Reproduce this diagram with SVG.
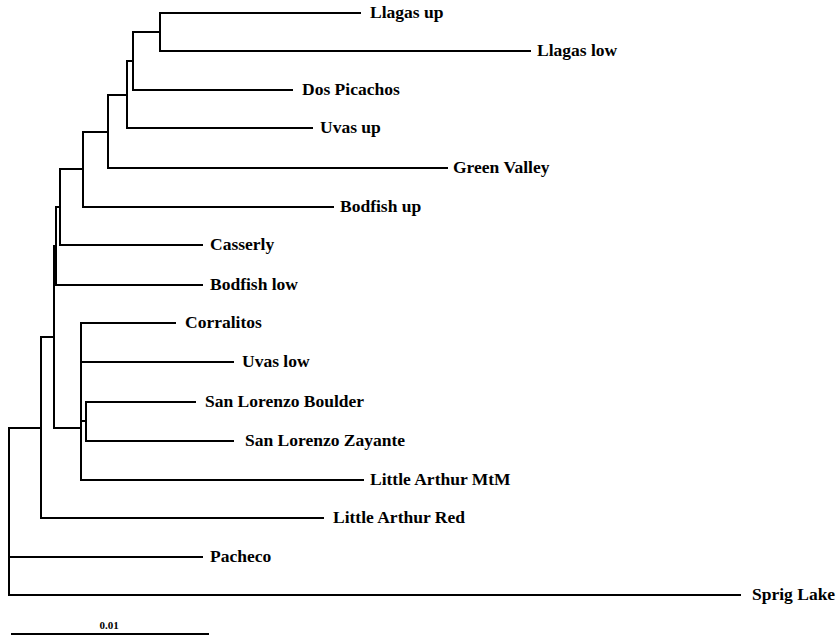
<svg xmlns="http://www.w3.org/2000/svg" width="838" height="638" viewBox="0 0 838 638">
  <style>
    .br { fill: none; stroke: #000; stroke-width: 2; stroke-linecap: square; }
    .lb { font-family: "Liberation Serif", "Times New Roman", serif; font-weight: bold; font-size: 17.5px; fill: #000; }
    .sc { font-family: "Liberation Serif", "Times New Roman", serif; font-weight: bold; font-size: 11px; fill: #000; }
  </style>
  <rect width="838" height="638" fill="#fff"/>

  <!-- tree branches: internal node brackets and terminal branches -->
  <g id="connectors" class="br">
    <!-- root -->
    <path d="M9,428 V595"/>
    <path d="M9,428 H41"/>
    <!-- clade J -->
    <path d="M41,337 V518"/>
    <path d="M41,337 H54"/>
    <!-- clade H -->
    <path d="M54,246 V428"/>
    <path d="M54,246 H56"/>
    <path d="M54,428 H81"/>
    <!-- clade G -->
    <path d="M56,207 V285"/>
    <path d="M56,207 H60"/>
    <!-- clade F -->
    <path d="M60,169 V245"/>
    <path d="M60,169 H83"/>
    <!-- clade E -->
    <path d="M83,132 V207"/>
    <path d="M83,132 H108"/>
    <!-- clade D -->
    <path d="M108,95 V168"/>
    <path d="M108,95 H127"/>
    <!-- clade C -->
    <path d="M127,61 V128"/>
    <path d="M127,61 H133"/>
    <!-- clade B -->
    <path d="M133,32 V90"/>
    <path d="M133,32 H160"/>
    <!-- clade A -->
    <path d="M160,13 V51"/>
    <!-- lower clade I -->
    <path d="M81,323 V480"/>
    <path d="M81,421 H86"/>
    <!-- San Lorenzo pair -->
    <path d="M86,402 V441"/>

    <!-- terminal branches -->
    <path d="M160,13 H360"/>
    <path d="M160,51 H530"/>
    <path d="M133,90 H292"/>
    <path d="M127,128 H312"/>
    <path d="M108,168 H447"/>
    <path d="M83,207 H333"/>
    <path d="M60,245 H202"/>
    <path d="M56,285 H202"/>
    <path d="M81,323 H175"/>
    <path d="M81,362 H233"/>
    <path d="M86,402 H195"/>
    <path d="M86,441 H233"/>
    <path d="M81,480 H363"/>
    <path d="M41,518 H323"/>
    <path d="M9,557 H202"/>
    <path d="M9,595 H740"/>
  </g>

  <!-- taxon labels -->
  <g id="llagas-up"><text class="lb" x="370" y="18">Llagas up</text></g>
  <g id="llagas-low"><text class="lb" x="537" y="56">Llagas low</text></g>
  <g id="dos-picachos"><text class="lb" x="302" y="95">Dos Picachos</text></g>
  <g id="uvas-up"><text class="lb" x="320" y="133">Uvas up</text></g>
  <g id="green-valley"><text class="lb" x="453" y="173">Green Valley</text></g>
  <g id="bodfish-up"><text class="lb" x="340" y="212">Bodfish up</text></g>
  <g id="casserly"><text class="lb" x="210" y="250">Casserly</text></g>
  <g id="bodfish-low"><text class="lb" x="210" y="290">Bodfish low</text></g>
  <g id="corralitos"><text class="lb" x="185" y="328">Corralitos</text></g>
  <g id="uvas-low"><text class="lb" x="242" y="367">Uvas low</text></g>
  <g id="san-lorenzo-boulder"><text class="lb" x="205" y="407">San Lorenzo Boulder</text></g>
  <g id="san-lorenzo-zayante"><text class="lb" x="245" y="446">San Lorenzo Zayante</text></g>
  <g id="little-arthur-mtm"><text class="lb" x="370" y="485">Little Arthur MtM</text></g>
  <g id="little-arthur-red"><text class="lb" x="333" y="523">Little Arthur Red</text></g>
  <g id="pacheco"><text class="lb" x="210" y="562">Pacheco</text></g>
  <g id="sprig-lake"><text class="lb" x="752" y="600">Sprig Lake</text></g>

  <!-- scale bar -->
  <g id="scale-bar">
    <path class="br" d="M12,634 H208"/>
    <text class="sc" x="109" y="629" text-anchor="middle">0.01</text>
  </g>
</svg>
